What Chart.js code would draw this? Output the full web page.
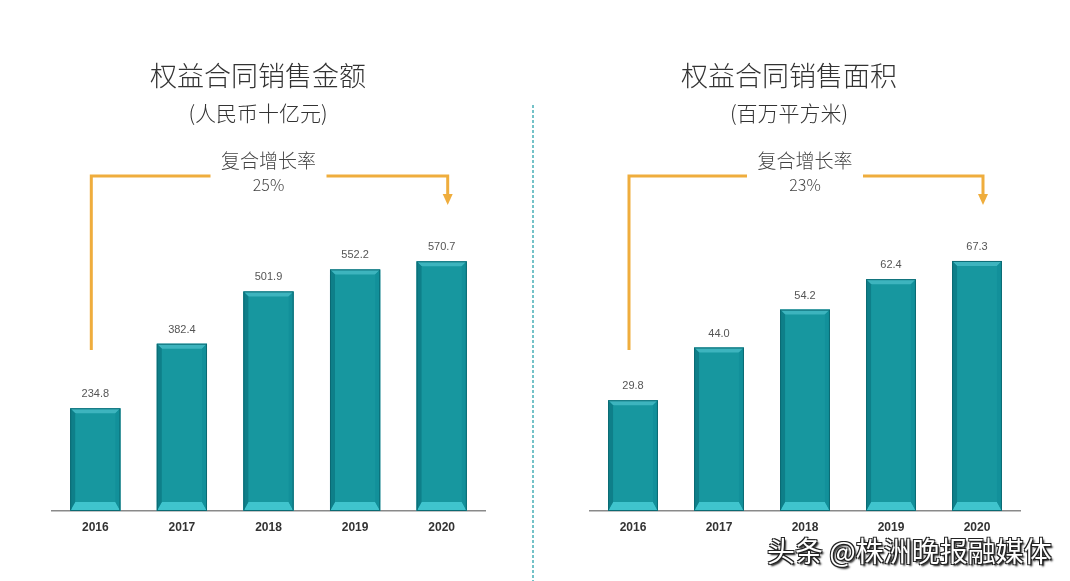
<!DOCTYPE html>
<html>
<head>
<meta charset="utf-8">
<script src="https://cdn.jsdelivr.net/npm/chart.js@4"></script>
<style>
    body { margin: 0; background: #fff; }
    #wrap { position: relative; width: 1070px; height: 581px; overflow: hidden; }
    .box { position: absolute; top: 0; width: 535px; height: 581px; }
    #divider {
        position: absolute; left: 532px; top: 105px; width: 2px; height: 476px;
        background: repeating-linear-gradient(to bottom, #74c2c8 0 3px, transparent 3px 5px);
    }
    #mark {
        position: absolute; left: 767px; top: 530px;
        font: 28px "Noto Sans CJK SC", sans-serif; color: #fff;
        text-shadow: 1px 1px 0 #222, -1px 1px 0 #222, 1px -1px 0 #222, -1px -1px 0 #222, 2px 2px 2px #000;
    }
</style>
</head>
<body>
<div id="wrap">
    <div class="box" style="left:0"><canvas id="amountChart"></canvas></div>
    <div class="box" style="left:535px"><canvas id="areaChart"></canvas></div>
    <div id="divider"></div>
    <div id="mark">头条 @株洲晚报融媒体</div>
</div>
<script>
// Dados dos dois gráficos
const years = ['2016', '2017', '2018', '2019', '2020'];
const salesAmount = [234.8, 382.4, 501.9, 552.2, 570.7];
const salesArea = [29.8, 44.0, 54.2, 62.4, 67.3];

const amountTitle = '权益合同销售金额';
const amountUnit = '(人民币十亿元)';
const amountCagr = '25%';
const areaTitle = '权益合同销售面积';
const areaUnit = '(百万平方米)';
const areaCagr = '23%';
const cagrLabel = '复合增长率';

const CJK = '"Noto Sans CJK SC", "Noto Sans", sans-serif';

// bevel + valores + títulos + seta
const decoPlugin = {
    id: 'deco',
    afterDatasetsDraw(chart, args, opts) {
        const ctx = chart.ctx;
        const bars = chart.getDatasetMeta(0).data;
        const values = chart.data.datasets[0].data;

        bars.forEach((bar, i) => {
            const l = bar.x - bar.width / 2, r = bar.x + bar.width / 2;
            const t = bar.y, b = bar.base;
            const s = 5, tb = 5, bb = 9;
            ctx.save();
            // topo
            ctx.fillStyle = '#3db4be';
            ctx.beginPath();
            ctx.moveTo(l, t); ctx.lineTo(r, t); ctx.lineTo(r - s, t + tb); ctx.lineTo(l + s, t + tb);
            ctx.fill();
            // base
            ctx.fillStyle = '#3fc4cd';
            ctx.beginPath();
            ctx.moveTo(l, b); ctx.lineTo(r, b); ctx.lineTo(r - s, b - bb); ctx.lineTo(l + s, b - bb);
            ctx.fill();
            // esquerda
            ctx.fillStyle = '#0e7f89';
            ctx.beginPath();
            ctx.moveTo(l, t); ctx.lineTo(l + s, t + tb); ctx.lineTo(l + s, b - bb); ctx.lineTo(l, b);
            ctx.fill();
            // direita
            ctx.fillStyle = '#12909a';
            ctx.beginPath();
            ctx.moveTo(r, t); ctx.lineTo(r - s, t + tb); ctx.lineTo(r - s, b - bb); ctx.lineTo(r, b);
            ctx.fill();
            ctx.strokeStyle = '#0b6a73';
            ctx.lineWidth = 1;
            ctx.strokeRect(l + 0.5, t + 0.5, bar.width - 1, b - t - 1);
            ctx.restore();

            // valor acima da barra
            ctx.save();
            ctx.fillStyle = '#555';
            ctx.font = '11px "Liberation Sans", Arial, sans-serif';
            ctx.textAlign = 'center';
            ctx.textBaseline = 'middle';
            ctx.fillText(values[i].toFixed(1), bar.x, bar.y - 14);
            ctx.restore();
        });

        // títulos
        ctx.save();
        ctx.fillStyle = '#333';
        ctx.textAlign = 'center';
        ctx.textBaseline = 'middle';
        ctx.font = '300 27px ' + CJK;
        ctx.fillText(opts.title, opts.titleX, 76);
        ctx.font = '300 21px ' + CJK;
        ctx.fillText(opts.unit, opts.titleX, 113);

        // seta de crescimento
        const area = chart.chartArea;
        const cx = (area.left + area.right) / 2;
        const x0 = bars[0].x - 4;
        const x1 = bars[bars.length - 1].x + 6;
        const yTop = 176;
        const gap = 58;
        ctx.strokeStyle = '#efad3d';
        ctx.fillStyle = '#efad3d';
        ctx.lineWidth = 3;
        ctx.beginPath();
        ctx.moveTo(x0, 350); ctx.lineTo(x0, yTop); ctx.lineTo(cx - gap, yTop);
        ctx.moveTo(cx + gap, yTop); ctx.lineTo(x1, yTop); ctx.lineTo(x1, 196);
        ctx.stroke();
        ctx.beginPath();
        ctx.moveTo(x1 - 5, 194); ctx.lineTo(x1 + 5, 194); ctx.lineTo(x1, 205);
        ctx.closePath();
        ctx.fill();

        ctx.fillStyle = '#444';
        ctx.font = '300 19px ' + CJK;
        ctx.fillText(cagrLabel, cx, 161);
        ctx.font = '300 16px ' + CJK;
        ctx.fillText(opts.cagr, cx, 185);
        ctx.restore();
    }
};

function createChart(canvasId, values, yMax, padLeft, deco) {
    const ctx = document.getElementById(canvasId).getContext('2d');
    return new Chart(ctx, {
        type: 'bar',
        data: {
            labels: years,
            datasets: [{
                data: values,
                backgroundColor: '#17979f',
                borderWidth: 0,
                categoryPercentage: 1,
                barPercentage: 0.58
            }]
        },
        options: {
            responsive: true,
            maintainAspectRatio: false,
            animation: false,
            layout: { padding: { left: padLeft, right: 50, top: 161, bottom: 0 } },
            plugins: {
                legend: { display: false },
                tooltip: { enabled: false },
                deco: deco
            },
            scales: {
                y: { display: false, min: 0, max: yMax },
                x: {
                    grid: { display: false },
                    border: { display: true, color: '#8a8a8a', width: 1.5 },
                    ticks: {
                        padding: 1,
                        color: '#333',
                        font: { family: '"Liberation Sans", Arial, sans-serif', size: 12, weight: 'bold' }
                    },
                    afterFit(scale) { scale.height = 70; }
                }
            }
        },
        plugins: [decoPlugin]
    });
}

createChart('amountChart', salesAmount, 800, 52,
    { title: amountTitle, unit: amountUnit, cagr: amountCagr, titleX: 258 });
createChart('areaChart', salesArea, 94.2, 55,
    { title: areaTitle, unit: areaUnit, cagr: areaCagr, titleX: 254 });
</script>
</body>
</html>
